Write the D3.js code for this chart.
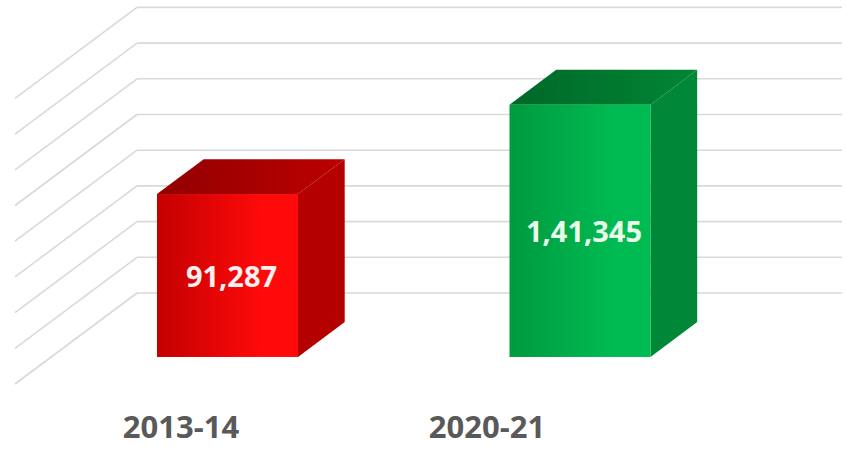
<!DOCTYPE html>
<html lang="en">
<head>
    <meta charset="UTF-8">
    <title>3D Column</title>
    <style>
        body { margin: 0; background: #fff; }
    </style>
</head>
<body>
    <div id="my_dataviz"></div>
    <script src="https://d3js.org/d3.v7.min.js"></script>
    <script>

        // data
        var categories = ["2013-14", "2020-21"]
        var values = [91287, 141345]
        var valueLabels = ["91,287", "1,41,345"]
        var gridTicks = [0, 20000, 40000, 60000, 80000, 100000, 120000, 140000, 160000]

        // colours per bar: [front dark, front light, top, side]
        var barColors = [
            ["#c40000", "#ff0a0a", "#a30000", "#b50000"],
            ["#009a3e", "#00bb52", "#00742d", "#008838"]
        ]
        var labelColors = ["#fff0f0", "#eafdeb"]

        var width = 846, height = 456

        var svg = d3.select("#my_dataviz")
            .append("svg")
            .attr("width", width)
            .attr("height", height)

        // depth vector of the 3d box (z = 0 front edge, z = 1 back wall)
        var depthX = 122, depthY = -91
        var barZ0 = 0.297, barZ1 = 0.68

        // x on the front edge of the floor
        var x = d3.scaleBand()
            .domain(categories)
            .range([15, 720])
            .paddingInner(0.6)
            .paddingOuter(0.3)

        // y on the front plane (z = 0)
        var y = d3.scaleLinear()
            .domain([0, 160000])
            .range([384, 98.4])

        function px(xv, z) { return xv + z * depthX }
        function py(yv, z) { return yv + z * depthY }

        // gridlines: back wall + left wall
        var wallLeft = x.range()[0], wallRight = x.range()[1]
        var grid = svg.append("g")
        grid.selectAll(".back")
            .data(gridTicks)
            .enter()
            .append("line")
            .attr("x1", px(wallLeft, 1))
            .attr("x2", px(wallRight, 1))
            .attr("y1", function (d) { return py(y(d), 1) })
            .attr("y2", function (d) { return py(y(d), 1) })
            .attr("stroke", "#d9d9d9")
            .attr("stroke-width", 1.6)
        grid.selectAll(".side")
            .data(gridTicks)
            .enter()
            .append("line")
            .attr("x1", px(wallLeft, 1))
            .attr("x2", px(wallLeft, 0))
            .attr("y1", function (d) { return py(y(d), 1) })
            .attr("y2", function (d) { return py(y(d), 0) })
            .attr("stroke", "#d9d9d9")
            .attr("stroke-width", 1.6)

        // gradients
        var defs = svg.append("defs")
        barColors.forEach(function (c, i) {
            var g = defs.append("linearGradient").attr("id", "front" + i)
                .attr("x1", "0").attr("x2", "1").attr("y1", "0").attr("y2", "0")
            g.append("stop").attr("offset", "0%").attr("stop-color", c[0])
            g.append("stop").attr("offset", "75%").attr("stop-color", c[1])
            g.append("stop").attr("offset", "100%").attr("stop-color", c[1])
            var t = defs.append("linearGradient").attr("id", "top" + i)
                .attr("x1", "0").attr("x2", "1").attr("y1", "0").attr("y2", "0")
            t.append("stop").attr("offset", "0%").attr("stop-color", d3.color(c[2]).darker(0.3))
            t.append("stop").attr("offset", "100%").attr("stop-color", d3.color(c[2]).brighter(0.4))
        })

        // bars
        var bars = svg.selectAll(".bar")
            .data(values)
            .enter()
            .append("g")

        bars.each(function (d, i) {
            var g = d3.select(this)
            var xl = x(categories[i]), xr = xl + x.bandwidth()
            var yb = y(0), yt = y(d)
            var line = d3.line()
            // top face
            g.append("path")
                .attr("d", line([
                    [px(xl, barZ0), py(yt, barZ0)], [px(xl, barZ1), py(yt, barZ1)],
                    [px(xr, barZ1), py(yt, barZ1)], [px(xr, barZ0), py(yt, barZ0)]]) + "Z")
                .attr("fill", "url(#top" + i + ")")
            // side face
            g.append("path")
                .attr("d", line([
                    [px(xr, barZ0), py(yt, barZ0)], [px(xr, barZ1), py(yt, barZ1)],
                    [px(xr, barZ1), py(yb, barZ1)], [px(xr, barZ0), py(yb, barZ0)]]) + "Z")
                .attr("fill", barColors[i][3])
            // front face
            g.append("rect")
                .attr("x", px(xl, barZ0))
                .attr("y", py(yt, barZ0))
                .attr("width", x.bandwidth())
                .attr("height", yb - yt)
                .attr("fill", "url(#front" + i + ")")
            // value label
            g.append("text")
                .attr("x", px(xl + x.bandwidth() / 2, barZ0) + 4)
                .attr("y", py((yb + yt) / 2, barZ0))
                .attr("text-anchor", "middle")
                .attr("dominant-baseline", "central")
                .style("font-family", "'Open Sans', sans-serif")
                .style("font-weight", "bold")
                .style("font-size", "29px")
                .attr("fill", labelColors[i])
                .text(valueLabels[i])
        })

        // category labels
        var xLabel = d3.scalePoint()
            .domain(categories)
            .range([181, 487])
        svg.selectAll(".cat")
            .data(categories)
            .enter()
            .append("text")
            .attr("x", function (d) { return xLabel(d) })
            .attr("y", 438)
            .attr("text-anchor", "middle")
            .style("font-family", "'Open Sans', sans-serif")
            .style("font-weight", "bold")
            .style("font-size", "31px")
            .attr("fill", "#595959")
            .text(function (d) { return d })

    </script>
</body>
</html>
